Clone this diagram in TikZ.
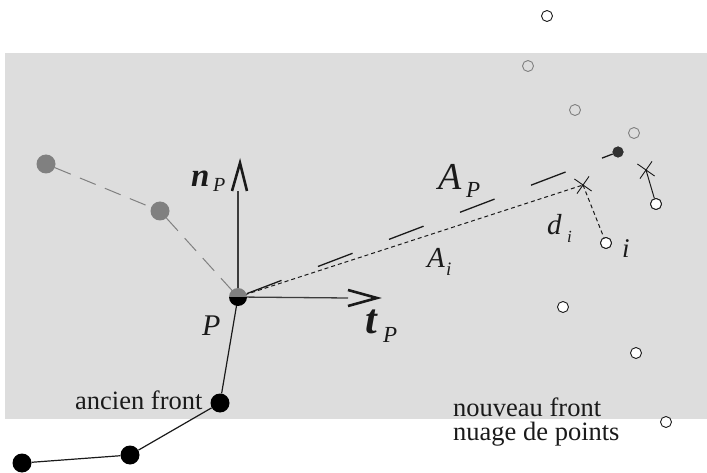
\documentclass[tikz,border=0pt]{standalone}
\usepackage{fontspec}
\setmainfont{Liberation Serif}
\usetikzlibrary{shapes.misc}
\definecolor{bg}{HTML}{DDDDDD}
\definecolor{dotgray}{HTML}{808080}
\definecolor{ink}{HTML}{1A1A1A}
\tikzset{
  lbl/.style={inner sep=0pt, anchor=base west, text=ink},
  olddot/.style={circle, fill=black, minimum size=19pt, inner sep=0pt},
  graydot/.style={circle, fill=dotgray, minimum size=19pt, inner sep=0pt},
  cloud/.style={circle, draw=ink, fill=white, line width=0.9pt, minimum size=11pt, inner sep=0pt},
  ghost/.style={circle, draw=dotgray, line width=0.9pt, minimum size=11pt, inner sep=0pt},
  xmark/.style={cross out, draw=ink, line width=0.9pt, minimum size=14pt, inner sep=0pt},
  frontline/.style={draw=ink, line width=1.2pt},
  oldgray/.style={draw=dotgray, line width=1pt, dash pattern=on 17pt off 10pt},
  apline/.style={draw=ink, line width=1.3pt, dash pattern=on 37pt off 39pt, dash phase=66.4pt},
  dotline/.style={draw=ink, line width=1pt, dash pattern=on 4pt off 3pt},
  axis/.style={draw=ink!85, line width=1.3pt},
  head/.style={draw=ink, line width=2.6pt, miter limit=20},
}
\begin{document}
\begin{tikzpicture}[x=1pt,y=-1pt]
\useasboundingbox (0,0) rectangle (707,473);
\fill[bg] (5,53) rectangle (707,419);

% coordinates
\coordinate (P) at (238,297);
\coordinate (vt) at (238,191);
\coordinate (ht) at (348,298);
\coordinate (X1) at (583,185);
\coordinate (X2) at (646,170);

% old front gray part
\node[graydot] (G1) at (46,164) {};
\node[graydot] (G2) at (160,211) {};
\path[oldgray] (G1) -- (G2) -- (P);

% old front black part
\node[olddot] (B1) at (220,403) {};
\node[olddot] (B2) at (130,455) {};
\node[olddot] (B3) at (22,463) {};
\draw[frontline] (P) -- (B1) -- (B2) -- (B3);

% dark new-front point
\node[circle, fill=ink!90, minimum size=11pt, inner sep=0pt] (D) at (618,152) {};
\path[apline] (P) -- (D);
\node[circle, fill=ink!90, minimum size=11pt, inner sep=0pt] at (D) {};

% dotted lines
\path[dotline] (P) -- (X1);
\node[cloud] (I) at (606,243) {};
\path[dotline] (X1) -- (I);
\node[cloud] (C2) at (656,204) {};
\draw[line width=1pt, draw=ink] (X2) -- (C2);
\node[cloud] at (C2) {};
\node[cloud] at (I) {};
\node[xmark, rotate=10] (XM1) at (X1) {};
\node[xmark, rotate=10] (XM2) at (X2) {};

% other cloud points
\node[cloud] (C0) at (547,16) {};
\node[ghost] (H1) at (528,66) {};
\node[ghost] (H2) at (575,110) {};
\node[ghost] (H3) at (634,133) {};
\node[cloud] (C3) at (563,307) {};
\node[cloud] (C4) at (636,353) {};
\node[cloud] (C5) at (666,422) {};

% axes
\path[axis] (P) -- (vt);
\path[axis] (P) -- (ht);
\path[head] (232,191) -- (240,163) -- (247,191);
\path[head] (348,290) -- (377,298) -- (348,306);

% P point (half gray / half black)
\fill[dotgray] ([xshift=-9pt]P) arc[start angle=180, end angle=0, radius=9pt] -- cycle;
\fill[black] ([xshift=-9pt]P) arc[start angle=180, end angle=360, radius=9pt] -- cycle;

% labels
\node[lbl, font=\fontsize{33}{36}\selectfont\bfseries\itshape] (nlab) at (191,187) {n};
\node[lbl, font=\fontsize{20}{22}\selectfont\itshape] (nsub) at (213,192) {P};
\node[lbl, font=\fontsize{42}{46}\selectfont\bfseries\itshape] (tlab) at (365,333) {t};
\node[lbl, font=\fontsize{23}{25}\selectfont\itshape] (tsub) at (383,342) {P};
\node[lbl, font=\fontsize{30}{33}\selectfont\itshape] (plab) at (202,335) {P};
\node[lbl, font=\fontsize{38}{40}\selectfont\itshape] (aplab) at (438,190) {A};
\node[lbl, font=\fontsize{23}{25}\selectfont\itshape] (apsub) at (466,198) {P};
\node[lbl, font=\fontsize{29}{31}\selectfont\itshape] (ailab) at (427,267) {A};
\node[lbl, font=\fontsize{19}{21}\selectfont\itshape] (aisub) at (446,276) {i};
\node[lbl, font=\fontsize{29}{31}\selectfont\itshape] (dlab) at (547,235) {d};
\node[lbl, font=\fontsize{17}{19}\selectfont\itshape] (dsub) at (567,243) {i};
\node[lbl, font=\fontsize{27}{29}\selectfont\itshape] (ilab) at (622,258) {i};
\node[lbl, font=\fontsize{26.5}{30}\selectfont] (anc) at (75,409) {ancien front};
\node[lbl, font=\fontsize{26.5}{30}\selectfont] (nf) at (453,416) {nouveau front};
\node[lbl, font=\fontsize{26.5}{30}\selectfont] (np) at (453,440) {nuage de points};
\end{tikzpicture}
\end{document}
